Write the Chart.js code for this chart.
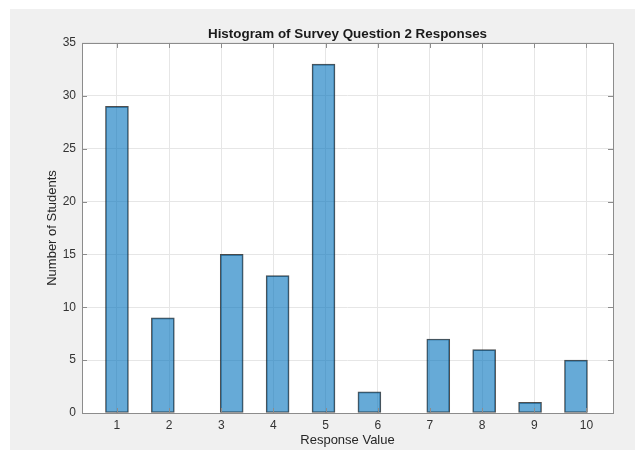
<!DOCTYPE html>
<html>
<head>
<meta charset="utf-8">
<script src="https://cdn.jsdelivr.net/npm/chart.js@4/dist/chart.umd.min.js"></script>
<style>
  html, body { margin: 0; padding: 0; background: #fff; }
  #wrap { width: 635px; height: 450px; }
</style>
</head>
<body>
<div id="wrap"><canvas id="hist"></canvas></div>
<script>
// Histogram bins (centres) and counts per bin
const binCenters = [1.00, 1.44, 1.88, 2.32, 2.76, 3.20, 3.64, 4.08, 4.52, 4.96, 5.40,
                    5.84, 6.28, 6.72, 7.16, 7.60, 8.04, 8.48, 8.92, 9.36, 9.80];
const counts = [29, null, 9, null, null, 15, null, 13, null, 33, null,
                2, null, null, 7, null, 6, null, 1, null, 5];
const xTicks = [1, 2, 3, 4, 5, 6, 7, 8, 9, 10];
const yTicks = [0, 5, 10, 15, 20, 25, 30, 35];

const FONT = '"Liberation Sans", Helvetica, Arial, sans-serif';
const AXIS_GRAY = '#8c8c8c';

// MATLAB-like figure background, box around the axes and inward tick marks
const matlabAxes = {
  id: 'matlabAxes',
  beforeDraw(chart) {
    const ctx = chart.ctx;
    ctx.save();
    ctx.fillStyle = '#f0f0f0';
    ctx.fillRect(10, 9, chart.width - 10, chart.height - 9);
    const a = chart.chartArea;
    ctx.fillStyle = '#ffffff';
    ctx.fillRect(a.left, a.top, a.right - a.left, a.bottom - a.top);
    ctx.restore();
  },
  afterDatasetsDraw(chart) {
    const ctx = chart.ctx;
    const a = chart.chartArea;
    const xs = chart.scales.x, ys = chart.scales.y;
    const len = 5;
    ctx.save();
    ctx.strokeStyle = AXIS_GRAY;
    ctx.lineWidth = 1;
    ctx.beginPath();
    xTicks.forEach(v => {
      const px = Math.round(xs.getPixelForValue(v)) + 0.5;
      ctx.moveTo(px, a.bottom); ctx.lineTo(px, a.bottom - len);
      ctx.moveTo(px, a.top); ctx.lineTo(px, a.top + len);
    });
    yTicks.forEach(v => {
      const py = Math.round(ys.getPixelForValue(v)) + 0.5;
      ctx.moveTo(a.left, py); ctx.lineTo(a.left + len, py);
      ctx.moveTo(a.right, py); ctx.lineTo(a.right - len, py);
    });
    ctx.stroke();
    ctx.strokeRect(Math.round(a.left) + 0.5, Math.round(a.top) + 0.5,
                   Math.round(a.right - a.left), Math.round(a.bottom - a.top));
    ctx.restore();
  }
};

new Chart(document.getElementById('hist'), {
  type: 'bar',
  data: {
    datasets: [{
      data: binCenters.map((c, i) => ({ x: c, y: counts[i] })),
      backgroundColor: 'rgba(0, 114, 189, 0.6)',
      borderColor: 'rgba(20, 20, 20, 0.75)',
      borderWidth: 1,
      borderSkipped: false,
      categoryPercentage: 1,
      barPercentage: 1
    }]
  },
  options: {
    responsive: true,
    maintainAspectRatio: false,
    animation: false,
    layout: { padding: { left: 0, right: 22, top: 0, bottom: 0 } },
    scales: {
      x: {
        type: 'linear',
        min: 0.33,
        max: 10.51,
        offset: false,
        afterBuildTicks: s => { s.ticks = xTicks.map(v => ({ value: v })); },
        afterFit: s => { s.height = 37; },
        ticks: {
          color: '#333',
          font: { family: FONT, size: 12 },
          padding: 5,
          maxRotation: 0,
          autoSkip: false
        },
        grid: { color: '#e6e6e6', drawTicks: false, offset: false },
        border: { display: false },
        title: {
          display: true,
          text: 'Response Value',
          color: '#262626',
          font: { family: FONT, size: 13, lineHeight: 1 },
          padding: { top: 0, bottom: 3.5 }
        }
      },
      y: {
        min: 0,
        max: 35,
        afterBuildTicks: s => { s.ticks = yTicks.map(v => ({ value: v })); },
        afterFit: s => { s.width = 82; },
        ticks: {
          color: '#333',
          font: { family: FONT, size: 12 },
          padding: 6
        },
        grid: { color: '#e6e6e6', drawTicks: false },
        border: { display: false },
        title: {
          display: true,
          text: 'Number of Students',
          color: '#262626',
          font: { family: FONT, size: 13, lineHeight: 1 },
          padding: { top: 46, bottom: 0 }
        }
      }
    },
    plugins: {
      legend: { display: false },
      tooltip: { enabled: false },
      title: {
        display: true,
        fullSize: false,
        text: 'Histogram of Survey Question 2 Responses',
        color: '#1a1a1a',
        font: { family: FONT, size: 13.4, weight: 'bold', lineHeight: 1.2 },
        padding: { top: 26, bottom: 0.9 }
      }
    }
  },
  plugins: [matlabAxes]
});
</script>
</body>
</html>
